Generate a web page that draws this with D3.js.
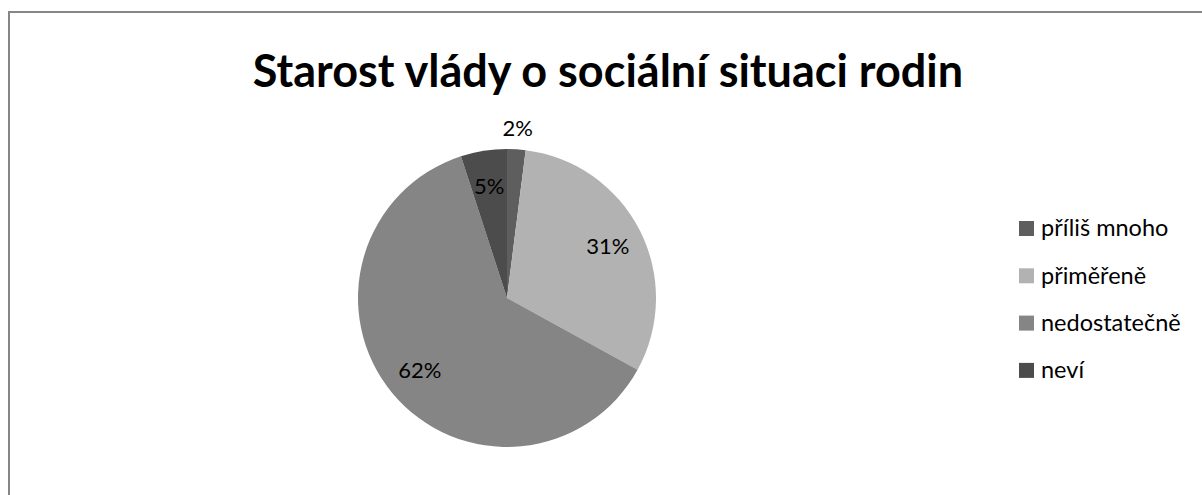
<!DOCTYPE html>
<html>
<head>
<meta charset="utf-8">
<script src="https://cdn.jsdelivr.net/npm/d3@7"></script>
<style>
  body { margin: 0; background: #fff; }
  svg { display: block; }
</style>
</head>
<body>
<svg></svg>
<script>
let categories = ["příliš mnoho", "přiměřeně", "nedostatečně", "neví"];
let shares = [2, 31, 62, 5];
let colors = ["#5e5e5e", "#b2b2b2", "#858585", "#4c4c4c"];
let title = "Starost vlády o sociální situaci rodin";

let width = 1202;
let height = 495;
let cx = 507;
let cy = 298;
let radius = 149;
let font = "Lato, 'Open Sans', sans-serif";

let svg = d3.select("svg").attr("width", width).attr("height", height);

// outer frame, running off the right and bottom edges
svg.append("rect")
  .attr("x", 9).attr("y", 12)
  .attr("width", width).attr("height", height)
  .attr("fill", "#fff")
  .attr("stroke", "#868686")
  .attr("stroke-width", 2);

svg.append("text")
  .attr("x", 608)
  .attr("y", 87)
  .attr("text-anchor", "middle")
  .style("font-family", font)
  .style("font-weight", "bold")
  .style("font-size", "45px")
  .text(title);

let values = categories.map((c, i) => ({ name: c, value: shares[i], color: colors[i] }));

let pie = d3.pie().sort(null).value(d => d.value);
let arcs = pie(values);
let arc = d3.arc().innerRadius(0).outerRadius(radius);
let labelArc = d3.arc().innerRadius(radius * 0.76).outerRadius(radius * 0.76);
let outsideArc = d3.arc().innerRadius(radius + 21).outerRadius(radius + 21);

let g = svg.append("g").attr("transform", "translate(" + cx + "," + cy + ")");

g.selectAll("path")
  .data(arcs)
  .enter()
  .append("path")
  .attr("d", arc)
  .attr("fill", d => d.data.color);

g.selectAll("text")
  .data(arcs)
  .enter()
  .append("text")
  .attr("transform", (d, i) => {
    let p = i == 0 ? outsideArc.centroid(d) : labelArc.centroid(d);
    return "translate(" + p[0] + "," + p[1] + ")";
  })
  .attr("text-anchor", "middle")
  .attr("dy", "0.35em")
  .style("font-family", font)
  .style("font-size", "22px")
  .attr("fill", "#000")
  .text(d => d.data.value + "%");

let legend = svg.append("g").attr("transform", "translate(1019, 228)");

let item = legend.selectAll("g")
  .data(values)
  .enter()
  .append("g")
  .attr("transform", (d, i) => "translate(0," + i * 47.3 + ")");

item.append("rect")
  .attr("x", 0).attr("y", -7)
  .attr("width", 15).attr("height", 15)
  .attr("fill", d => d.color);

item.append("text")
  .attr("x", 22)
  .attr("dy", "0.35em")
  .style("font-family", font)
  .style("font-size", "23.5px")
  .attr("fill", "#000")
  .text(d => d.name);
</script>
</body>
</html>
